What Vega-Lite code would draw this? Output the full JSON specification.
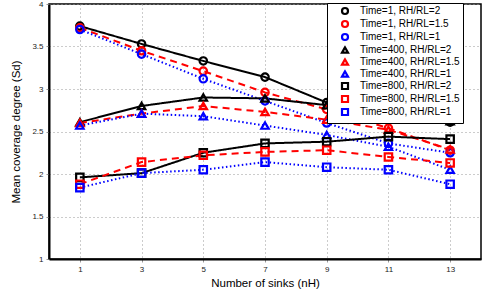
{
  "$schema": "https://vega.github.io/schema/vega-lite/v6.json",
  "width": 432,
  "height": 255,
  "autosize": {"type": "none"},
  "padding": {"left": 49, "top": 4, "right": 1, "bottom": 33},
  "background": "white",
  "config": {
    "font": "Liberation Sans",
    "view": {"stroke": "black", "strokeWidth": 1.5},
    "axis": {
      "domainColor": "black", "domainWidth": 2,
      "grid": true, "gridColor": "#999", "gridDash": [1, 3], "gridWidth": 1,
      "tickColor": "#999", "tickSize": 3, "tickWidth": 1,
      "labelFontSize": 8, "labelColor": "#222",
      "titleFontSize": 11.5, "titleFontWeight": "normal", "titleColor": "black"
    }
  },
  "data": {"values": [
    {"x":1,"y":3.74,"s":"Time=1, RH/RL=2","r":"2"},{"x":3,"y":3.53,"s":"Time=1, RH/RL=2","r":"2"},{"x":5,"y":3.33,"s":"Time=1, RH/RL=2","r":"2"},{"x":7,"y":3.14,"s":"Time=1, RH/RL=2","r":"2"},{"x":9,"y":2.84,"s":"Time=1, RH/RL=2","r":"2"},{"x":11,"y":2.79,"s":"Time=1, RH/RL=2","r":"2"},{"x":13,"y":2.61,"s":"Time=1, RH/RL=2","r":"2"},
    {"x":1,"y":3.72,"s":"Time=1, RH/RL=1.5","r":"1.5"},{"x":3,"y":3.45,"s":"Time=1, RH/RL=1.5","r":"1.5"},{"x":5,"y":3.21,"s":"Time=1, RH/RL=1.5","r":"1.5"},{"x":7,"y":2.96,"s":"Time=1, RH/RL=1.5","r":"1.5"},{"x":9,"y":2.76,"s":"Time=1, RH/RL=1.5","r":"1.5"},{"x":11,"y":2.54,"s":"Time=1, RH/RL=1.5","r":"1.5"},{"x":13,"y":2.28,"s":"Time=1, RH/RL=1.5","r":"1.5"},
    {"x":1,"y":3.70,"s":"Time=1, RH/RL=1","r":"1"},{"x":3,"y":3.41,"s":"Time=1, RH/RL=1","r":"1"},{"x":5,"y":3.12,"s":"Time=1, RH/RL=1","r":"1"},{"x":7,"y":2.86,"s":"Time=1, RH/RL=1","r":"1"},{"x":9,"y":2.60,"s":"Time=1, RH/RL=1","r":"1"},{"x":11,"y":2.36,"s":"Time=1, RH/RL=1","r":"1"},{"x":13,"y":2.25,"s":"Time=1, RH/RL=1","r":"1"},
    {"x":1,"y":2.61,"s":"Time=400, RH/RL=2","r":"2"},{"x":3,"y":2.80,"s":"Time=400, RH/RL=2","r":"2"},{"x":5,"y":2.90,"s":"Time=400, RH/RL=2","r":"2"},{"x":7,"y":2.89,"s":"Time=400, RH/RL=2","r":"2"},{"x":9,"y":2.81,"s":"Time=400, RH/RL=2","r":"2"},{"x":11,"y":2.75,"s":"Time=400, RH/RL=2","r":"2"},{"x":13,"y":2.62,"s":"Time=400, RH/RL=2","r":"2"},
    {"x":1,"y":2.60,"s":"Time=400, RH/RL=1.5","r":"1.5"},{"x":3,"y":2.71,"s":"Time=400, RH/RL=1.5","r":"1.5"},{"x":5,"y":2.80,"s":"Time=400, RH/RL=1.5","r":"1.5"},{"x":7,"y":2.73,"s":"Time=400, RH/RL=1.5","r":"1.5"},{"x":9,"y":2.64,"s":"Time=400, RH/RL=1.5","r":"1.5"},{"x":11,"y":2.52,"s":"Time=400, RH/RL=1.5","r":"1.5"},{"x":13,"y":2.29,"s":"Time=400, RH/RL=1.5","r":"1.5"},
    {"x":1,"y":2.57,"s":"Time=400, RH/RL=1","r":"1"},{"x":3,"y":2.71,"s":"Time=400, RH/RL=1","r":"1"},{"x":5,"y":2.68,"s":"Time=400, RH/RL=1","r":"1"},{"x":7,"y":2.57,"s":"Time=400, RH/RL=1","r":"1"},{"x":9,"y":2.46,"s":"Time=400, RH/RL=1","r":"1"},{"x":11,"y":2.32,"s":"Time=400, RH/RL=1","r":"1"},{"x":13,"y":2.05,"s":"Time=400, RH/RL=1","r":"1"},
    {"x":1,"y":1.96,"s":"Time=800, RH/RL=2","r":"2"},{"x":3,"y":2.01,"s":"Time=800, RH/RL=2","r":"2"},{"x":5,"y":2.25,"s":"Time=800, RH/RL=2","r":"2"},{"x":7,"y":2.36,"s":"Time=800, RH/RL=2","r":"2"},{"x":9,"y":2.38,"s":"Time=800, RH/RL=2","r":"2"},{"x":11,"y":2.44,"s":"Time=800, RH/RL=2","r":"2"},{"x":13,"y":2.41,"s":"Time=800, RH/RL=2","r":"2"},
    {"x":1,"y":1.88,"s":"Time=800, RH/RL=1.5","r":"1.5"},{"x":3,"y":2.14,"s":"Time=800, RH/RL=1.5","r":"1.5"},{"x":5,"y":2.22,"s":"Time=800, RH/RL=1.5","r":"1.5"},{"x":7,"y":2.26,"s":"Time=800, RH/RL=1.5","r":"1.5"},{"x":9,"y":2.28,"s":"Time=800, RH/RL=1.5","r":"1.5"},{"x":11,"y":2.20,"s":"Time=800, RH/RL=1.5","r":"1.5"},{"x":13,"y":2.13,"s":"Time=800, RH/RL=1.5","r":"1.5"},
    {"x":1,"y":1.84,"s":"Time=800, RH/RL=1","r":"1"},{"x":3,"y":2.01,"s":"Time=800, RH/RL=1","r":"1"},{"x":5,"y":2.05,"s":"Time=800, RH/RL=1","r":"1"},{"x":7,"y":2.14,"s":"Time=800, RH/RL=1","r":"1"},{"x":9,"y":2.08,"s":"Time=800, RH/RL=1","r":"1"},{"x":11,"y":2.05,"s":"Time=800, RH/RL=1","r":"1"},{"x":13,"y":1.88,"s":"Time=800, RH/RL=1","r":"1"}
  ]},
  "encoding": {
    "x": {"field": "x", "type": "quantitative", "scale": {"domain": [0, 14], "nice": false},
      "axis": {"values": [1,3,5,7,9,11,13], "title": "Number of sinks (nH)", "titlePadding": 4, "labelPadding": 3}},
    "y": {"field": "y", "type": "quantitative", "scale": {"domain": [1, 4], "nice": false, "zero": false},
      "axis": {"values": [1,1.5,2,2.5,3,3.5,4], "format": "~g", "title": "Mean coverage degree (Sd)", "titlePadding": 10, "labelPadding": 3}},
    "color": {"field": "s", "type": "nominal",
      "scale": {"domain": ["Time=1, RH/RL=2","Time=1, RH/RL=1.5","Time=1, RH/RL=1","Time=400, RH/RL=2","Time=400, RH/RL=1.5","Time=400, RH/RL=1","Time=800, RH/RL=2","Time=800, RH/RL=1.5","Time=800, RH/RL=1"],
        "range": ["#000000","#ff0000","#0000ff","#000000","#ff0000","#0000ff","#000000","#ff0000","#0000ff"]},
      "legend": {"title": null, "orient": "none", "legendX": 278, "legendY": -1, "direction": "vertical",
        "strokeColor": "black", "fillColor": "white", "padding": 3,
        "labelFontSize": 10, "labelColor": "black", "rowPadding": -3, "symbolSize": 36, "symbolStrokeWidth": 2.2, "labelOffset": 10, "symbolOffset": 10}}
  },
  "layer": [
    {"mark": {"type": "line", "strokeWidth": 2},
     "encoding": {
       "detail": {"field": "s"},
       "strokeDash": {"field": "r", "type": "nominal", "legend": null,
         "scale": {"domain": ["2","1.5","1"], "range": [[1,0],[7,5],[1.5,2.5]]}},
       "strokeWidth": {"field": "r", "type": "nominal", "legend": null,
         "scale": {"domain": ["2","1.5","1"], "range": [2,2.5,1]}}
     }},
    {"mark": {"type": "point", "filled": false, "strokeWidth": 2.2, "size": 55, "opacity": 1},
     "encoding": {
       "shape": {"field": "s", "type": "nominal",
         "scale": {"domain": ["Time=1, RH/RL=2","Time=1, RH/RL=1.5","Time=1, RH/RL=1","Time=400, RH/RL=2","Time=400, RH/RL=1.5","Time=400, RH/RL=1","Time=800, RH/RL=2","Time=800, RH/RL=1.5","Time=800, RH/RL=1"],
           "range": ["circle","circle","circle","triangle-up","triangle-up","triangle-up","square","square","square"]}}
     }}
  ]
}
